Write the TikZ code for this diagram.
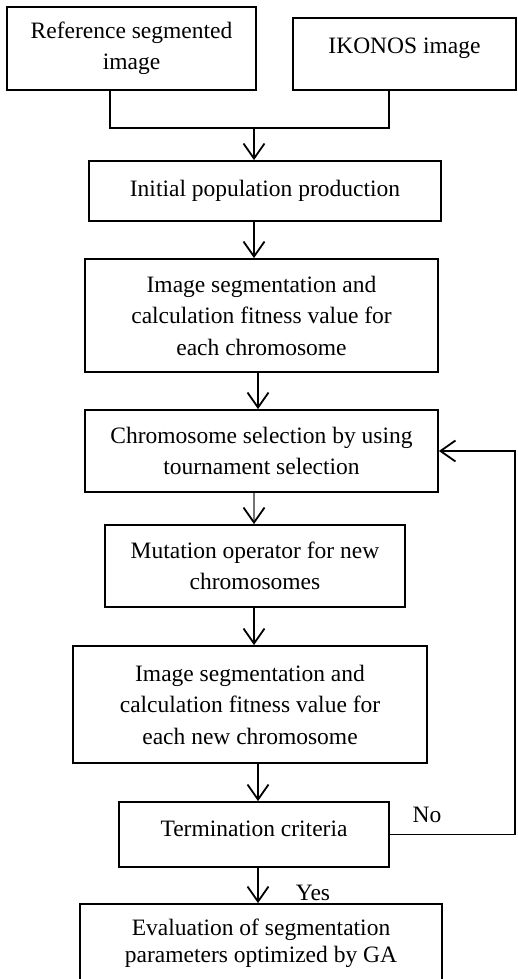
\documentclass[tikz,border=0pt]{standalone}
\usepackage{fontspec}
\setmainfont{Liberation Serif}
\usetikzlibrary{arrows.meta}
\begin{document}
\begin{tikzpicture}[x=1pt,y=-1pt,
  box/.style={draw=black,line width=1.8pt,rectangle,inner sep=0pt,align=center,
    font=\fontsize{23.5}{31.5}\selectfont},
  arr/.style={line width=1.8pt,-{Straight Barb[length=15pt,width=21pt,line width=1.8pt]}},
  conn/.style={line width=1.8pt},
  lbl/.style={font=\fontsize{23.5}{31.5}\selectfont,inner sep=0pt}]
\useasboundingbox (0,0) rectangle (517,979);
\node[box,minimum width=249pt,minimum height=83pt] (b1) at (131.5,48.5) {Reference segmented\\image};
\node[box,minimum width=223pt,minimum height=72pt] (b2) at (404.5,54) {\smash{IKONOS image}};
\node[box,minimum width=352pt,minimum height=60pt] (b3) at (265,191) {Initial population production};
\node[box,minimum width=353pt,minimum height=113pt] (b4) at (261.5,315.5) {Image segmentation and\\calculation fitness value for\\each chromosome};
\node[box,minimum width=353pt,minimum height=82pt] (b5) at (261.5,451) {Chromosome selection by using\\tournament selection};
\node[box,minimum width=300pt,minimum height=82pt] (b6) at (255,566) {Mutation operator for new\\chromosomes};
\node[box,minimum width=354pt,minimum height=117pt] (b7) at (250,704.5) {Image segmentation and\\calculation fitness value for\\each new chromosome};
\node[box,minimum width=270pt,minimum height=65pt] (b8) at (254,834.5) {\smash{\raisebox{-1.5pt}{Termination criteria}}};
\node[box,minimum width=362pt,minimum height=79pt,font=\fontsize{23.5}{27}\selectfont] (b9) at (261,943.5) {Evaluation of segmentation\\parameters optimized by GA};
\node[lbl] (no) at (427,815) {No};
\node[lbl] (yes) at (313,893) {Yes};
\coordinate (l1) at (110,0);
\coordinate (r1) at (389,0);
\coordinate (j) at (254,128);
\coordinate (c1) at (254,0);
\coordinate (c2) at (258,0);
\coordinate (fb) at (515,0);
\draw[conn] (b1.south -| l1) |- (j) -| (b2.south -| r1);
\draw[arr] (j) -- (b3.north -| j);
\draw[arr] (b3.south -| c1) -- (b4.north -| c1);
\draw[arr] (b4.south -| c2) -- (b5.north -| c2);
\draw[arr,-{Straight Barb[length=15pt,width=21pt,line width=1.8pt,color=black]},draw=black!55] (b5.south -| c1) -- (b6.north -| c1);
\draw[arr] (b6.south -| c1) -- (b7.north -| c1);
\draw[arr] (b7.south -| c2) -- (b8.north -| c2);
\draw[arr] (b8.south -| c2) -- (b9.north -| c2);
\draw[arr] (b8.east) -- (b8.east -| fb) -- (b5.east -| fb) -- (b5.east);
\end{tikzpicture}
\end{document}
